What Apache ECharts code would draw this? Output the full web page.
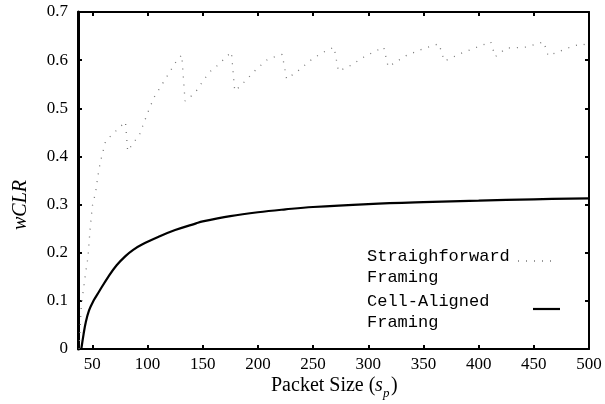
<!DOCTYPE html>
<html>
<head>
<meta charset="utf-8">
<script src="https://cdn.jsdelivr.net/npm/echarts@6/dist/echarts.min.js"></script>
<style>
  html, body { margin: 0; padding: 0; background: #fff; }
  #chart { width: 605px; height: 404px; }
</style>
</head>
<body>
<div id="chart"></div>
<script>
// packet sizes and wCLR
var sfX = [38, 40, 42, 44, 46, 48, 50, 53, 55, 57, 62, 70, 80, 82, 93, 100, 106, 120, 125, 131,
           134, 143, 151, 156, 162, 176, 179, 184, 199, 209, 222, 226, 236, 249, 258, 269,
           273, 285, 294, 305, 314, 318, 334, 349, 364, 369, 385, 411, 415, 425, 443, 459,
           463, 483, 493, 500];
var sfY = [0.0, 0.09, 0.125, 0.16, 0.19, 0.25, 0.297, 0.326, 0.359, 0.386, 0.432, 0.45, 0.472, 0.411, 0.447, 0.49, 0.523, 0.575, 0.594, 0.611,
           0.515, 0.532, 0.559, 0.575, 0.586, 0.617, 0.536, 0.546, 0.582, 0.602, 0.612, 0.561, 0.577, 0.602, 0.615, 0.627,
           0.577, 0.59, 0.604, 0.617, 0.627, 0.586, 0.609, 0.623, 0.634, 0.598, 0.615, 0.638, 0.607, 0.625, 0.627, 0.638,
           0.609, 0.627, 0.634, 0.63];

var caX = [40, 42, 44, 47, 51, 56, 65, 72, 80, 87, 95, 110, 125, 144, 150, 175, 200, 225, 250, 300, 350, 400, 450, 500];
var caY = [0.0, 0.03, 0.055, 0.08, 0.1, 0.119, 0.152, 0.174, 0.193, 0.206, 0.217, 0.233, 0.247, 0.261, 0.265, 0.276, 0.284, 0.29, 0.295, 0.301, 0.305, 0.308, 0.311, 0.313];

var xTicks = [50, 100, 150, 200, 250, 300, 350, 400, 450, 500];

function pairs(xs, ys) {
    var out = [];
    for (var i = 0; i < xs.length; i++) out.push([xs[i], ys[i]]);
    return out;
}

var serif = 'Liberation Serif';
var monoFont = '17px "Liberation Mono"';

var chart = echarts.init(document.getElementById('chart'));

chart.setOption({
    animation: false,
    grid: { left: 78, right: 16, top: 12, bottom: 55 },
    xAxis: [{
        type: 'value', min: 37, max: 500,
        axisLine: { show: true, onZero: false, lineStyle: { color: '#000', width: 2 } },
        axisTick: { show: true, inside: true, length: 4, customValues: xTicks, lineStyle: { color: '#000', width: 2 } },
        axisLabel: { customValues: xTicks, margin: 7, fontFamily: serif, fontSize: 17, color: '#000' },
        splitLine: { show: false }
    }, {
        type: 'value', position: 'top', min: 37, max: 500,
        axisLine: { show: true, onZero: false, lineStyle: { color: '#000', width: 2 } },
        axisTick: { show: true, inside: true, length: 4, customValues: xTicks, lineStyle: { color: '#000', width: 2 } },
        axisLabel: { show: false },
        splitLine: { show: false }
    }],
    yAxis: [{
        type: 'value', min: 0, max: 0.7, interval: 0.1,
        axisLine: { show: true, onZero: false, lineStyle: { color: '#000', width: 3 } },
        axisTick: { show: true, inside: true, length: 4, lineStyle: { color: '#000', width: 2 } },
        axisLabel: {
            margin: 10, fontFamily: serif, fontSize: 17, color: '#000',
            formatter: function (v) { return v === 0 ? '0' : v.toFixed(1); }
        },
        splitLine: { show: false }
    }, {
        type: 'value', position: 'right', min: 0, max: 0.7, interval: 0.1,
        axisLine: { show: true, onZero: false, lineStyle: { color: '#000', width: 2 } },
        axisTick: { show: true, inside: true, length: 4, lineStyle: { color: '#000', width: 2 } },
        axisLabel: { show: false },
        splitLine: { show: false }
    }],
    series: [{
        name: 'Straighforward Framing',
        type: 'line',
        xAxisIndex: 1,
        yAxisIndex: 1,
        data: pairs(sfX, sfY),
        showSymbol: false,
        lineStyle: { color: '#777', width: 1.3, type: [1, 7] }
    }, {
        name: 'Cell-Aligned Framing',
        type: 'line',
        data: pairs(caX, caY),
        smooth: 0.4,
        showSymbol: false,
        lineStyle: { color: '#000', width: 2.2 },
        // frame top and right edges
        markLine: {
            silent: true,
            symbol: 'none',
            label: { show: false },
            lineStyle: { color: '#000', width: 2, type: 'solid' },
            data: [{ yAxis: 0.7 }, { xAxis: 500 }]
        }
    }],
    graphic: [
        {
            type: 'text', x: 11, y: 230, rotation: Math.PI / 2,
            style: { text: 'wCLR', font: 'italic 20px "Liberation Serif"', fill: '#000' }
        },
        { type: 'text', x: 271, y: 376, style: { text: 'Packet Size (', font: '20px "Liberation Serif"', fill: '#000' } },
        { type: 'text', x: 375, y: 376, style: { text: 's', font: 'italic 20px "Liberation Serif"', fill: '#000' } },
        { type: 'text', x: 383, y: 387, style: { text: 'p', font: 'italic 13px "Liberation Serif"', fill: '#000' } },
        { type: 'text', x: 391, y: 376, style: { text: ')', font: '20px "Liberation Serif"', fill: '#000' } },
        { type: 'text', x: 367, y: 248, style: { text: 'Straighforward', font: monoFont, fill: '#000' } },
        { type: 'text', x: 367, y: 269, style: { text: 'Framing', font: monoFont, fill: '#000' } },
        { type: 'text', x: 367, y: 293, style: { text: 'Cell-Aligned', font: monoFont, fill: '#000' } },
        { type: 'text', x: 367, y: 314, style: { text: 'Framing', font: monoFont, fill: '#000' } },
        { type: 'line', shape: { x1: 518, y1: 261, x2: 558, y2: 261 }, style: { stroke: '#777', lineWidth: 1.3, lineDash: [1, 7] } },
        { type: 'line', shape: { x1: 533, y1: 309, x2: 560, y2: 309 }, style: { stroke: '#000', lineWidth: 2.2 } }
    ]
});
</script>
</body>
</html>
